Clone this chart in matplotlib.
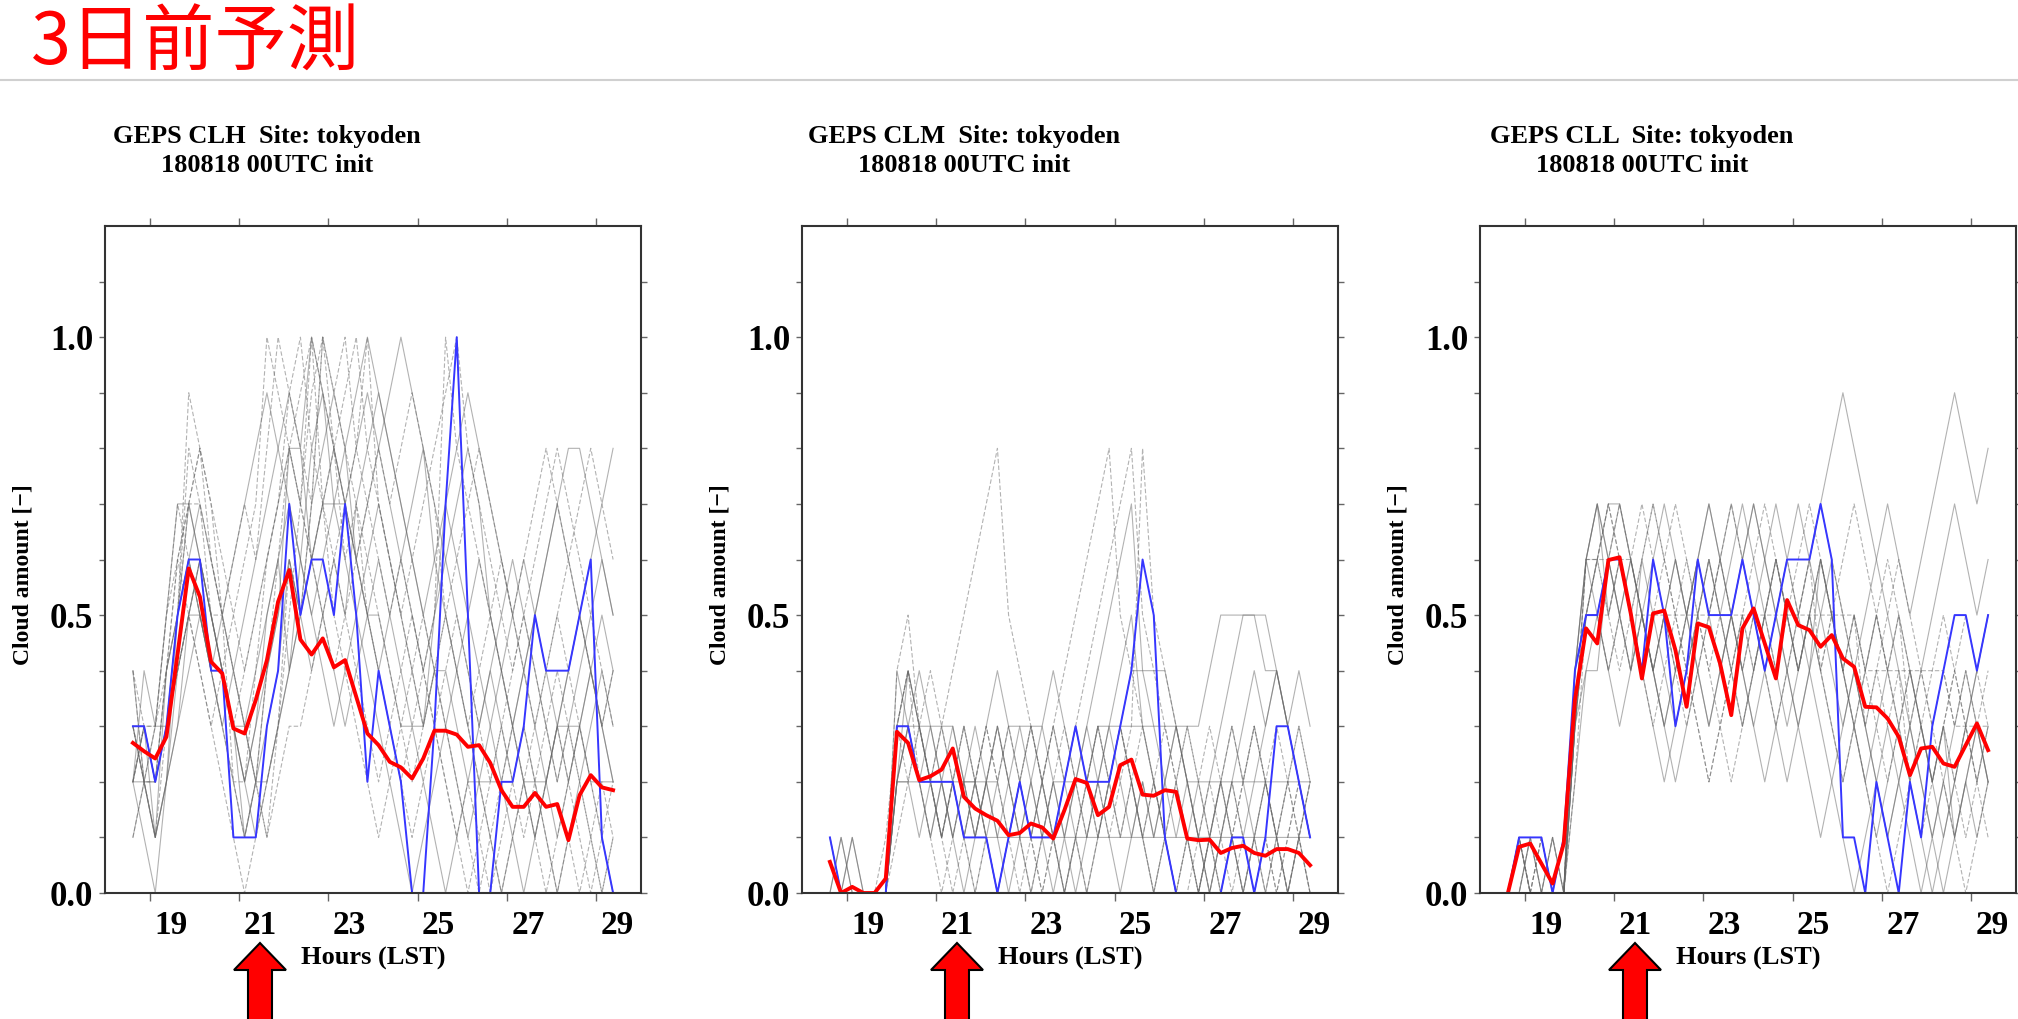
import numpy as np
import matplotlib
matplotlib.use('Agg')
import matplotlib.pyplot as plt
from matplotlib.patches import Polygon
from matplotlib.lines import Line2D

plt.rcParams['font.family'] = ['Liberation Serif', 'DejaVu Serif']
plt.rcParams['font.weight'] = 'bold'

W, H = 2018, 1019

# 6-hourly output, first step 18th 15LST, 44 steps (x axis in days of August)
t0, dt, nt = 18.625, 0.25, 44
hours = t0 + dt * np.arange(nt)

day_ticks = np.array([19, 21, 23, 25, 27, 29])
day_labels = ['19', '21', '23', '25', '27', '29']
y_ticks = np.arange(0, 12) / 10
y_labels = ['0.0', '', '', '', '', '0.5', '', '', '', '', '1.0', '']

names = ['CLH', 'CLM', 'CLL']
init_str = '180818 00UTC init'
site = 'tokyoden'

# ensemble mean (red)
clh_mean = [0.27, 0.255, 0.242, 0.281, 0.43, 0.584, 0.533, 0.416, 0.395, 0.296,
            0.287, 0.347, 0.419, 0.524, 0.581, 0.456, 0.429, 0.458, 0.406, 0.419,
            0.353, 0.287, 0.266, 0.236, 0.226, 0.206, 0.242, 0.292, 0.292, 0.285,
            0.263, 0.266, 0.234, 0.185, 0.155, 0.155, 0.18, 0.155, 0.16, 0.095,
            0.176, 0.212, 0.19, 0.185]
clm_mean = [0.056, 0.0, 0.011, 0.0, 0.0, 0.026, 0.29, 0.27, 0.203, 0.21,
            0.222, 0.26, 0.173, 0.152, 0.14, 0.13, 0.104, 0.108, 0.125, 0.118,
            0.098, 0.149, 0.205, 0.198, 0.14, 0.155, 0.23, 0.24, 0.177, 0.175,
            0.185, 0.182, 0.098, 0.095, 0.096, 0.072, 0.081, 0.085, 0.072, 0.067,
            0.079, 0.079, 0.072, 0.05]
cll_mean = [0.0, 0.083, 0.089, 0.053, 0.017, 0.089, 0.347, 0.476, 0.449, 0.599,
            0.604, 0.503, 0.386, 0.503, 0.508, 0.437, 0.335, 0.485, 0.478, 0.413,
            0.32, 0.476, 0.512, 0.449, 0.386, 0.527, 0.482, 0.473, 0.443, 0.464,
            0.422, 0.407, 0.335, 0.334, 0.314, 0.281, 0.212, 0.26, 0.263, 0.233,
            0.227, 0.266, 0.305, 0.257]

# control run (blue)
clh_ctl = [0.3, 0.3, 0.2, 0.3, 0.5, 0.6, 0.6, 0.4, 0.4, 0.1,
           0.1, 0.1, 0.3, 0.4, 0.7, 0.5, 0.6, 0.6, 0.5, 0.7,
           0.5, 0.2, 0.4, 0.3, 0.2, 0.0, 0.0, 0.3, 0.7, 1.0,
           0.5, 0.0, 0.0, 0.2, 0.2, 0.3, 0.5, 0.4, 0.4, 0.4,
           0.5, 0.6, 0.1, 0.0]
clm_ctl = [0.1, 0.0, 0.0, 0.0, 0.0, 0.0, 0.3, 0.3, 0.2, 0.2,
           0.2, 0.2, 0.1, 0.1, 0.1, 0.0, 0.1, 0.2, 0.1, 0.1,
           0.1, 0.2, 0.3, 0.2, 0.2, 0.2, 0.3, 0.4, 0.6, 0.5,
           0.1, 0.0, 0.0, 0.0, 0.0, 0.0, 0.1, 0.1, 0.0, 0.1,
           0.3, 0.3, 0.2, 0.1]
cll_ctl = [0.0, 0.1, 0.1, 0.1, 0.0, 0.1, 0.4, 0.5, 0.5, 0.6,
           0.6, 0.5, 0.4, 0.6, 0.5, 0.3, 0.4, 0.6, 0.5, 0.5,
           0.5, 0.6, 0.5, 0.4, 0.5, 0.6, 0.6, 0.6, 0.7, 0.6,
           0.1, 0.1, 0.0, 0.2, 0.1, 0.0, 0.2, 0.1, 0.3, 0.4,
           0.5, 0.5, 0.4, 0.5]

# members, tenths as hex digits (a = 1.0)
clh_members = [
    "2335 7654 3224 679a 8754 3212 3454 3210 1232 1012 3210",
    "3214 5765 4312 4588 6543 4565 4321 0123 4323 2101 2343",
    "4223 5987 5432 1365 7a98 7654 3234 5432 1012 3454 3212",
    "2102 4565 4321 2346 8976 5432 1012 3456 5432 1234 5432",
    "3324 6775 5432 1233 4567 8765 6543 2121 0123 2101 0121",
    "1212 3454 3212 3465 7898 6545 6786 5432 1010 1234 5678",
    "3235 6543 2101 2357 9a87 6543 2345 a876 5432 1232 1010",
    "2223 4554 4332 2345 6777 6554 3334 4322 2212 2233 3222",
    "4323 5876 5212 4687 a765 4323 4543 2101 2345 4323 2101",
    "2435 7765 4323 5676 5434 5676 5435 7654 3234 3212 3454",
    "3213 4565 4345 6789 a986 7543 2123 4543 2321 2343 2101",
    "2324 5654 3434 5645 4565 7898 7654 3212 3456 5432 3434",
    "2324 6786 5676 8a98 7a9a 8a76 5678 9a87 6545 6787 6543",
    "3233 5654 5678 9876 5678 9a98 7656 7898 7654 5676 5432",
    "1223 4543 4567 a987 6789 a876 5434 5678 7656 7876 5434",
    "2312 5676 5456 7898 a987 6789 a987 6543 4565 4323 4565",
    "3334 5787 6545 6787 6545 6787 8987 5434 5654 3456 7876",
    "4212 3565 4323 4565 6787 8987 6545 6787 5434 5678 8765",
]
clm_members = [
    "1000 0034 3212 1010 1232 1010 1232 1010 0121 0101 0121",
    "0010 0043 2323 2121 0123 4321 2345 3210 0012 3212 1012",
    "0000 0045 3212 3210 1210 1012 3212 1210 1010 1232 1010",
    "0100 0033 2121 2321 2321 2123 4567 4321 2123 4555 4321",
    "0000 0012 3434 5678 5432 1012 1232 1010 1010 1012 1212",
    "1000 0023 3333 2222 3333 2222 3333 3333 2222 2222 2222",
    "0000 0134 3212 1010 1210 1234 5678 5432 1012 1010 1212",
    "0000 0024 3232 1234 3212 3210 1234 4443 2101 2343 4343",
    "0000 0033 2101 2123 2101 2321 2123 8543 2101 2101 0121",
    "0010 0022 2222 2211 1111 1111 1111 1111 1111 1111 1111",
    "0000 0034 3210 1232 1012 3456 7854 3210 1012 1232 1010",
    "0000 0023 2121 0123 2121 0101 2321 2123 3345 5554 4321",
    "0000 0032 3232 3232 3232 3232 3232 3232 3232 3232 3232",
    "0100 0023 4321 2123 2101 2123 2101 2123 2101 2123 4321",
    "0000 0034 2212 3210 1232 1012 3232 1012 3210 1012 1232",
    "0000 0022 1212 1212 1212 1232 1212 1212 1212 1010 1010",
]
cll_members = [
    "0101 0035 6765 4345 6565 4345 6567 6545 4323 2123 4323",
    "0010 1046 7656 5456 5434 5676 5434 5654 3212 3212 1232",
    "0000 0025 5676 7654 3456 7654 3456 7654 3456 5432 1012",
    "0100 1035 6776 5434 5676 5432 3456 7898 7654 3212 3432",
    "0000 0136 6666 5555 5555 5555 5555 5555 4444 4444 3333",
    "0010 0046 7565 4323 4565 4345 6545 4323 4543 2101 2345",
    "0000 0035 5565 6765 4323 4567 6545 6543 2101 2345 4321",
    "0100 0024 4656 5434 5676 7654 3232 1234 5676 5678 9878",
    "0000 1045 6545 6767 6543 2345 6545 6567 6543 4323 2123",
    "0000 0036 7654 5456 5654 5456 7676 5434 3212 1010 1232",
    "0101 0045 5454 5454 4545 4545 4545 4545 4545 3434 3434",
    "0000 0034 5676 5432 3456 5434 5654 3210 1232 3456 7656",
    "0101 0045 6765 4565 4323 4545 6545 4323 4565 4323 4543",
    "0000 0035 5454 6543 4565 6765 4345 6543 2345 4323 1212",
    "0010 0036 6565 5454 5656 5454 5656 4545 3434 2323 2323",
    "0000 0046 5434 5676 5434 5676 5434 6543 2123 4321 2345",
]

means = [clh_mean, clm_mean, cll_mean]
ctls = [clh_ctl, clm_ctl, cll_ctl]
members_all = [clh_members, clm_members, cll_members]

fig = plt.figure(figsize=(W / 100, H / 100), dpi=100)
fig.patch.set_facecolor('white')

# page header
fig.text(31 / W, 1 - 44 / H, '3日前予測', fontsize=52, color='#ff0000',
         family=['Noto Sans CJK JP', 'DejaVu Sans'], weight='normal',
         ha='left', va='center')
fig.add_artist(Line2D([0, 1], [1 - 80 / H, 1 - 80 / H], transform=fig.transFigure,
                      color='#d0d0d0', lw=1.5))

ax_lefts = [105, 802, 1480]
ax_w, ax_top, ax_bot = 536, 226, 893

for i in range(3):
    left = ax_lefts[i]
    ax = fig.add_axes([left / W, 1 - ax_bot / H, ax_w / W, (ax_bot - ax_top) / H])

    for j, s in enumerate(members_all[i]):
        vals = [int(c, 16) / 10 for c in s.replace(' ', '')]
        assert len(vals) == nt
        ls = '-' if j % 2 else (0, (4, 2))
        ax.plot(hours, vals, color='0.4', lw=0.8, ls=ls, alpha=0.5)
    ax.plot(hours, ctls[i], color='#3636ff', lw=1.4)
    ax.plot(hours, means[i], color='#ff0000', lw=2.8)

    ax.set_xlim(18, 30)
    ax.set_ylim(0, 1.2)
    ax.set_xticks(day_ticks)
    ax.set_xticklabels([])
    ax.set_xticks(day_ticks + 0.47, day_labels, minor=True)
    ax.tick_params(axis='x', which='major', direction='out', length=5.5,
                   top=True, bottom=True, color='0.4', width=1)
    ax.tick_params(axis='x', which='minor', length=0, pad=12.5, labelsize=24)
    ax.set_yticks(y_ticks, y_labels)
    ax.tick_params(axis='y', direction='out', length=4, left=True, right=True,
                   pad=4.5, labelsize=25, color='0.4', width=1)
    for sp in ax.spines.values():
        sp.set_linewidth(1.5)
        sp.set_color('#333333')

    ax.text(-82 / ax_w, 0.477, 'Cloud amount [\u2212]', transform=ax.transAxes,
            rotation=90, ha='center', va='center', fontsize=17)
    ax.text(0.5, -(958 - ax_bot) / (ax_bot - ax_top), 'Hours (LST)',
            transform=ax.transAxes, ha='center', va='center', fontsize=19)

    tx = (left + 0.302 * ax_w) / W
    fig.text(tx, 1 - 143 / H, 'GEPS %s  Site: %s' % (names[i], site),
             ha='center', va='baseline', fontsize=19)
    fig.text(tx, 1 - 172 / H, init_str, ha='center', va='baseline', fontsize=19)

    # red arrow under the "21" label
    xc = ax.transData.transform((21.47, 0))[0] / W
    yt, yb = 1 - 943 / H, 1 - 970 / H
    hw, sw = 26 / W, 12 / W
    arrow = Polygon([(xc - hw, yb), (xc, yt), (xc + hw, yb), (xc + sw, yb),
                     (xc + sw, -0.05), (xc - sw, -0.05), (xc - sw, yb)],
                    closed=True, transform=fig.transFigure, facecolor='#ff0000',
                    edgecolor='black', lw=1.5, clip_on=False)
    fig.add_artist(arrow)

fig.savefig('out.png', dpi=100)
